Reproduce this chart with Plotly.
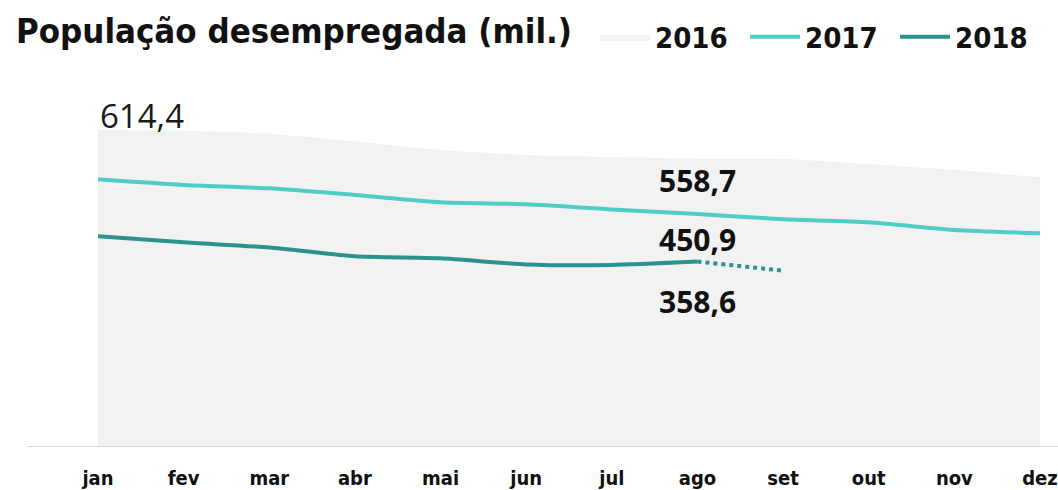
import plotly.graph_objects as go

months = ["jan", "fev", "mar", "abr", "mai", "jun", "jul", "ago", "set", "out", "nov", "dez"]
v2016 = [614.4, 613.0, 607.0, 592.0, 575.5, 566.0, 562.0, 558.7, 558.0, 548.0, 537.0, 522.0]
v2017 = [518.5, 507.5, 501.0, 488.0, 474.0, 470.0, 460.0, 450.9, 441.0, 435.0, 420.0, 413.5]
v2018 = [408.0, 396.0, 386.0, 369.0, 365.0, 353.0, 352.0, 358.6]
v2018_proj_months = ["ago", "set"]
v2018_proj = [358.6, 341.0]

xi = list(range(len(months)))
idx = {m: i for i, m in enumerate(months)}

FONT_B = "Liberation Sans Narrow, DejaVu Sans Condensed, Arial Narrow, sans-serif"
C2016 = "#f2f2f2"
C2017 = "#4fcdc9"
C2018 = "#2a938e"

fig = go.Figure()
fig.add_trace(go.Scatter(
    x=xi, y=v2016, name="2016", mode="lines", fill="tozeroy",
    fillcolor=C2016, line=dict(color=C2016, width=0, shape="spline", smoothing=0.6),
))
fig.add_trace(go.Scatter(
    x=xi, y=v2017, name="2017", mode="lines",
    line=dict(color=C2017, width=4, shape="spline", smoothing=0.6),
))
fig.add_trace(go.Scatter(
    x=xi[:len(v2018)], y=v2018, name="2018", mode="lines",
    line=dict(color=C2018, width=4, shape="spline", smoothing=0.6),
))
fig.add_trace(go.Scatter(
    x=[idx[m] for m in v2018_proj_months], y=v2018_proj, mode="lines", showlegend=False,
    line=dict(color=C2018, width=4, dash="dot"),
))

ago = idx["ago"]
fig.add_annotation(x=0, y=v2016[0], text=f"{v2016[0]:.1f}".replace(".", ","), showarrow=False,
                   xanchor="left", yanchor="bottom", xshift=0, yshift=-10,
                   font=dict(family="Open Sans, sans-serif", size=33, color="#1a1a1a"))
for val, shift in [(v2016[ago], -22), (v2017[ago], -25), (v2018[ago], -40)]:
    fig.add_annotation(x=ago, y=val, text=f"{val:.1f}".replace(".", ","), showarrow=False,
                       xanchor="center", yanchor="middle", xshift=0, yshift=shift,
                       font=dict(family="Open Sans, sans-serif", size=30, color="#111111",
                                 weight="bold"))

fig.update_layout(
    width=1058, height=490,
    margin=dict(l=27, r=0, t=86, b=44, autoexpand=False),
    paper_bgcolor="white", plot_bgcolor="white",
    title=dict(text="<b>População desempregada (mil.)</b>", xref="container", yref="container",
               x=16 / 1058, y=1 - 31 / 490, xanchor="left", yanchor="middle",
               font=dict(family=FONT_B, size=34.5, color="#111111")),
    legend=dict(orientation="h", xref="container", x=595 / 1058, xanchor="left",
                y=1 - 37 / 490, yanchor="middle", yref="container",
                font=dict(family=FONT_B, size=29, color="#111111", weight="bold"),
                itemwidth=50, bgcolor="rgba(0,0,0,0)", entrywidth=85, entrywidthmode="pixels"),
    showlegend=True,
)
fig.update_xaxes(range=[-71 / 85.64, 11 + 18 / 85.64], tickvals=xi, ticktext=months,
                 showgrid=False, zeroline=False, showline=True, linecolor="#d9d9d9", linewidth=1,
                 ticks="", ticklabelstandoff=14, automargin=False,
                 tickfont=dict(family=FONT_B, size=20, color="#111111", weight="bold"),
                 fixedrange=True)
fig.update_yaxes(range=[0, 700], visible=False, showgrid=False, zeroline=False, fixedrange=True)

fig.write_html("out.html", post_script="document.body.style.margin='0';",
               config={"displayModeBar": False})
